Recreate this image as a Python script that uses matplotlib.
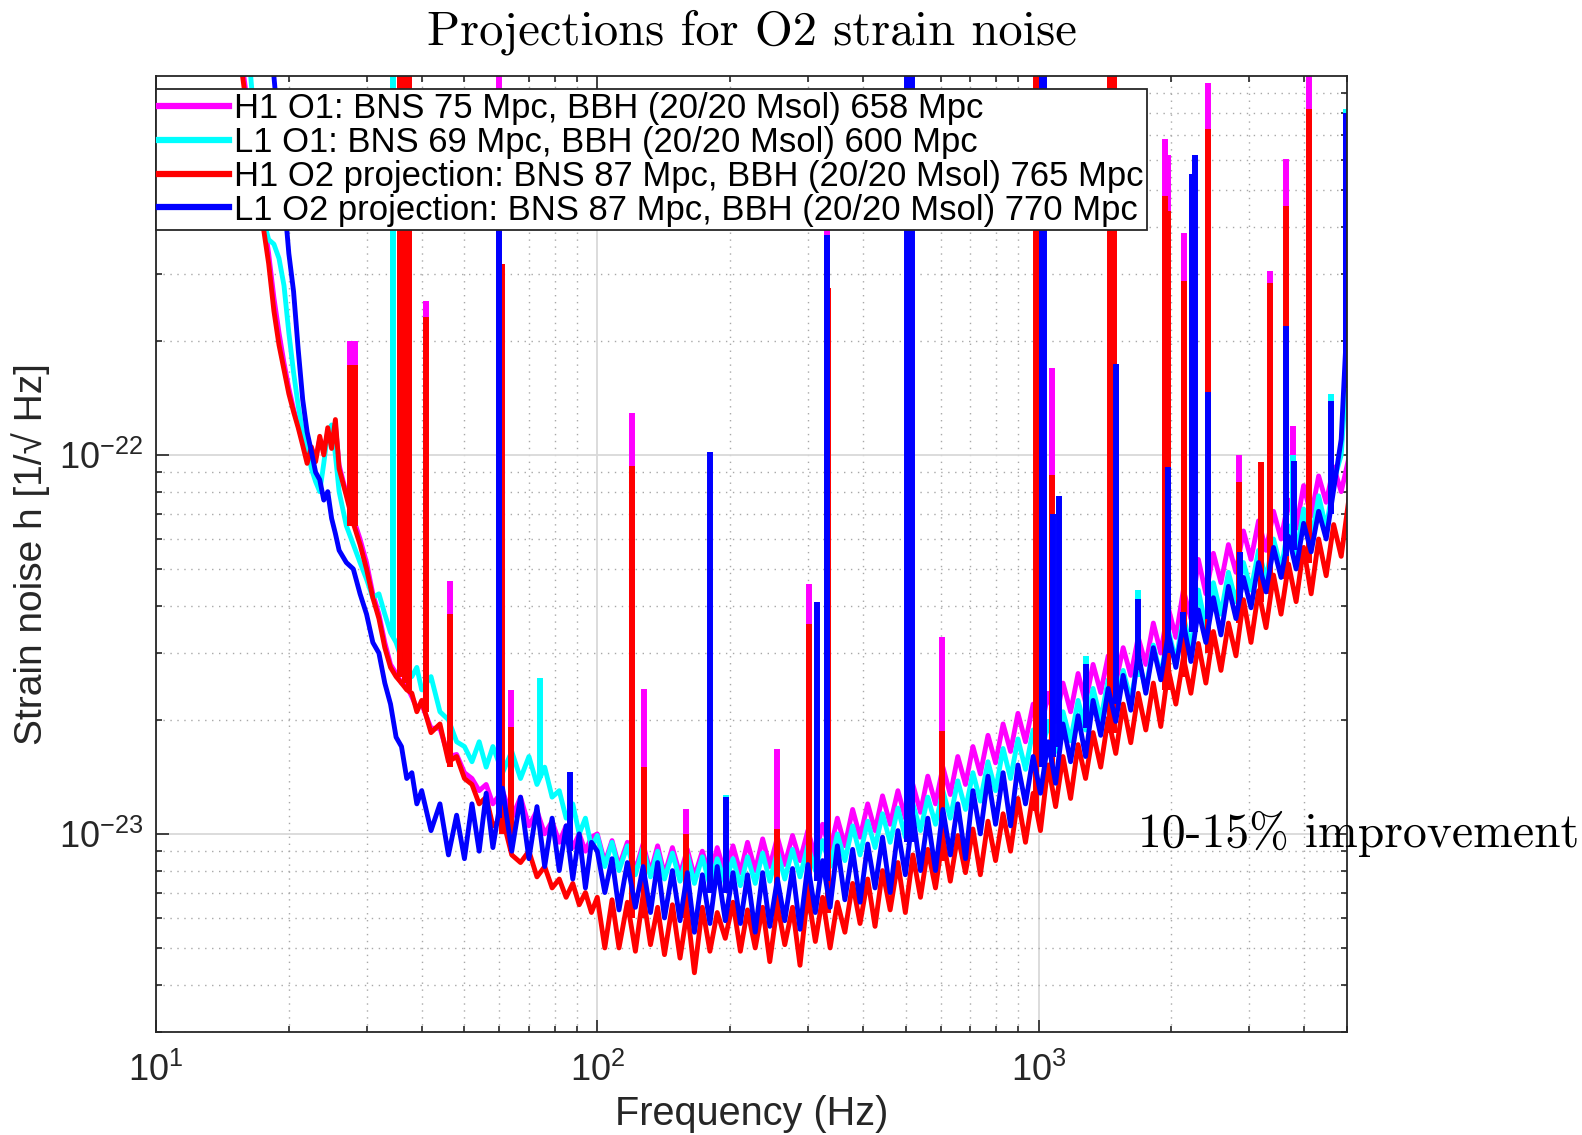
import numpy as np
import matplotlib
matplotlib.use("Agg")
import matplotlib.pyplot as plt
from matplotlib.ticker import LogLocator, NullFormatter

plt.rcParams['font.family'] = ['Liberation Sans', 'DejaVu Sans']
plt.rcParams['axes.unicode_minus'] = False

# === Frequency grid (Hz) shared by all four spectra ===
freq = [15, 16, 17, 17.5, 18, 18.5, 19, 19.5, 20, 20.5,
        21, 21.5, 22, 22.5, 23, 23.5, 24, 24.5, 25, 25.5,
        26, 27, 28, 29, 30, 31, 32, 33, 34, 35,
        36, 37, 38, 39, 40, 42, 44, 46, 48, 50,
        52, 54, 56, 58, 61, 64, 67, 70, 73, 76,
        79, 82, 85, 88, 91, 94, 97,
        100, 104, 108, 112, 117, 122, 127, 132, 137, 142,
        148, 154, 160, 166, 173, 180, 187, 195, 203, 211,
        219, 228, 237, 246, 256, 266, 277, 288, 300, 312,
        324, 337, 350, 364, 379, 394, 410, 426, 443, 461,
        480, 499, 519, 540, 561, 584, 607, 631, 656, 683,
        710, 738, 768, 799, 831, 864, 898, 934, 972, 1010,
        1051, 1093, 1136, 1182, 1229, 1278, 1329, 1383, 1438, 1496,
        1555, 1618, 1682, 1750, 1820, 1892, 1968, 2047, 2129, 2214,
        2302, 2394, 2490, 2590, 2693, 2801, 2913, 3030, 3151, 3277,
        3408, 3544, 3686, 3834, 3987, 4147, 4312, 4485, 4664, 4851,
        5045]

# === Strain noise, units of 1e-23 / sqrt(Hz) ===
h1_o1 = [160, 90, 56, 43, 34, 26, 21, 17.5, 15, 13.2,
         12, 10.8, 9.7, 10.4, 9.8, 11.0, 10.2, 11.5, 10.6, 12.0,
         9.4, 7.9, 6.8, 6.0, 5.2, 4.3, 3.8, 3.2, 2.8, 2.65,
         2.5, 2.45, 2.3, 2.15, 2.2, 1.9, 1.9, 1.6, 1.62, 1.45,
         1.4, 1.3, 1.35, 1.2, 1.3, 1.1, 1.25, 1.05, 1.15, 1.0,
         1.08, 0.95, 1.05, 0.92, 1.0, 0.9, 0.98,
         1.0, 0.84, 0.96, 0.82, 0.95, 0.8, 0.94, 0.79, 0.93, 0.78,
         0.92, 0.78, 0.91, 0.77, 0.9, 0.77, 0.92, 0.78, 0.93, 0.79,
         0.95, 0.8, 0.97, 0.82, 0.98, 0.83, 0.99, 0.85, 1.02, 0.87,
         1.06, 0.9, 1.1, 0.93, 1.16, 0.98, 1.2, 1.02, 1.26, 1.06,
         1.3, 1.1, 1.35, 1.14, 1.42, 1.2, 1.5, 1.27, 1.6, 1.35,
         1.7, 1.44, 1.82, 1.54, 1.95, 1.65, 2.08, 1.75, 2.2, 1.86,
         2.35, 1.98, 2.5, 2.1, 2.65, 2.22, 2.8, 2.36, 2.95, 2.5,
         3.1, 2.62, 3.3, 2.8, 3.6, 3.0, 3.95, 3.3, 4.4, 3.7,
         5.3, 4.3, 5.5, 4.6, 5.8, 4.9, 6.3, 5.3, 6.7, 5.6,
         7.1, 6.0, 7.6, 6.4, 8.3, 6.9, 8.8, 7.5, 9.3, 8.0,
         9.8]

l1_o1 = [400, 140, 60, 42, 37, 36, 33, 28, 21, 16.5,
         13.5, 11.5, 10.5, 9.2, 8.5, 8.0, 9.5, 11.5, 12, 10,
         8.0, 6.5, 5.8, 5.2, 4.7, 4.2, 4.3, 3.8, 3.4, 3.2,
         2.9, 2.8, 2.6, 2.75, 2.4, 2.6, 2.1, 2.0, 1.75, 1.7,
         1.55, 1.75, 1.5, 1.7, 1.45, 1.65, 1.4, 1.6, 1.35, 1.5,
         1.25, 1.3, 1.1, 1.2, 1.0, 1.1, 0.92,
         0.99, 0.82, 0.95, 0.8, 0.93, 0.78, 0.92, 0.77, 0.9, 0.76,
         0.89, 0.75, 0.88, 0.74, 0.87, 0.73, 0.86, 0.74, 0.86, 0.73,
         0.87, 0.74, 0.89, 0.75, 0.9, 0.76, 0.91, 0.77, 0.93, 0.8,
         0.96, 0.82, 1.0, 0.85, 1.05, 0.88, 1.08, 0.92, 1.13, 0.95,
         1.17, 0.98, 1.2, 1.02, 1.25, 1.06, 1.3, 1.1, 1.38, 1.16,
         1.45, 1.22, 1.55, 1.3, 1.68, 1.4, 1.78, 1.48, 1.88, 1.57,
         1.98, 1.65, 2.1, 1.76, 2.25, 1.88, 2.42, 2.0, 2.55, 2.12,
         2.7, 2.25, 2.9, 2.4, 3.15, 2.6, 3.45, 2.85, 3.75, 3.1,
         4.4, 3.5, 4.6, 3.8, 4.9, 4.1, 5.2, 4.4, 5.6, 4.7,
         6.0, 5.0, 6.5, 5.4, 7.2, 5.9, 7.8, 6.4, 8.5, 10,
         20]

h1_o2 = [150, 85, 52, 40, 32, 24, 19.5, 16.8, 14.5, 13.0,
         11.8, 10.6, 9.5, 10.5, 9.6, 11.2, 10.0, 11.8, 10.4, 12.4,
         9.2, 7.8, 6.6, 5.8, 5.0, 4.2, 3.7, 3.1, 2.75, 2.6,
         2.5, 2.4, 2.35, 2.1, 2.25, 1.85, 1.95, 1.55, 1.6, 1.4,
         1.35, 1.2, 1.25, 1.05, 1.1, 0.88, 0.84, 0.9, 0.77, 0.82,
         0.72, 0.76, 0.68, 0.74, 0.65, 0.7, 0.62,
         0.68, 0.5, 0.67, 0.5, 0.66, 0.49, 0.69, 0.51, 0.64, 0.48,
         0.65, 0.47, 0.63, 0.43, 0.64, 0.49, 0.62, 0.53, 0.66, 0.49,
         0.63, 0.5, 0.64, 0.46, 0.65, 0.51, 0.64, 0.45, 0.7, 0.52,
         0.68, 0.5, 0.66, 0.55, 0.74, 0.58, 0.76, 0.57, 0.8, 0.63,
         0.84, 0.62, 0.88, 0.68, 0.91, 0.72, 0.98, 0.75, 0.99, 0.79,
         1.03, 0.78, 1.08, 0.85, 1.13, 0.9, 1.24, 0.95, 1.28, 1.02,
         1.52, 1.18, 1.6, 1.24, 1.72, 1.4, 1.85, 1.5, 2.02, 1.63,
         2.2, 1.74, 2.35, 1.88, 2.5, 1.92, 2.72, 2.2, 2.92, 2.35,
         3.18, 2.5, 3.42, 2.7, 3.6, 2.95, 4.15, 3.2, 4.38, 3.5,
         4.82, 3.8, 5.15, 4.1, 5.7, 4.3, 6.0, 4.8, 6.55, 5.4,
         7.6]

l1_o2 = [400, 300, 220, 180, 140, 100, 70, 48, 34, 27,
         19, 14, 11.5, 10.2, 9.0, 8.6, 7.6, 8.0, 6.8, 6.2,
         5.6, 5.2, 5.0, 4.3, 3.8, 3.2, 3.0, 2.5, 2.2, 1.8,
         1.7, 1.4, 1.45, 1.2, 1.3, 1.02, 1.2, 0.88, 1.12, 0.86,
         1.2, 0.9, 1.28, 0.92, 1.32, 0.9, 1.25, 0.86, 1.18, 0.82,
         1.1, 0.8, 1.05, 0.76, 1.0, 0.72, 0.95,
         0.9, 0.7, 0.86, 0.63, 0.84, 0.64, 0.82, 0.62, 0.84, 0.6,
         0.8, 0.59, 0.79, 0.55, 0.78, 0.58, 0.82, 0.59, 0.79, 0.58,
         0.78, 0.55, 0.79, 0.57, 0.76, 0.59, 0.81, 0.56, 0.83, 0.62,
         0.85, 0.64, 0.93, 0.67, 0.91, 0.66, 0.94, 0.72, 0.98, 0.7,
         1.02, 0.78, 1.12, 0.8, 1.1, 0.8, 1.16, 0.88, 1.2, 0.86,
         1.3, 1.0, 1.42, 1.06, 1.45, 1.05, 1.52, 1.2, 1.6, 1.28,
         1.75, 1.36, 1.95, 1.55, 2.05, 1.6, 2.25, 1.82, 2.42, 1.98,
         2.62, 2.12, 3.0, 2.35, 3.1, 2.55, 3.38, 2.75, 3.6, 2.85,
         3.9, 3.2, 4.2, 3.35, 4.5, 3.7, 4.75, 3.95, 5.2, 4.35,
         5.7, 4.75, 6.1, 5.0, 6.6, 5.55, 7.1, 6.0, 8.1, 11,
         28]

# === Spectral lines: frequency, line top, line foot (units of 1e-23) ===
h1_o1_line_f = [27.5, 28.3, 35.7, 36.6, 37.5, 41.0, 46.3, 59.8, 63.8, 120,
                127.5, 159, 256, 302, 331, 603, 995, 1075, 1455, 1485,
                1935, 1965, 2140, 2420, 2850, 3350, 3640, 3780, 4100]
h1_o1_line_top = [20, 20, 200, 200, 200, 25.5, 4.65, 200, 2.39, 12.9,
                  2.41, 1.16, 1.67, 4.57, 42, 3.31, 200, 17, 200, 200,
                  68, 62, 38.5, 96, 10, 30.6, 60.5, 11.9, 200]
h1_o1_line_foot = [7, 7, 2.6, 2.5, 2.4, 2.2, 1.6, 1.2, 1.1, 0.85,
                   0.85, 0.85, 0.9, 0.95, 1.0, 1.35, 2.0, 2.2, 2.8, 2.8,
                   3.4, 3.4, 3.9, 4.8, 5.5, 6.6, 7.2, 7.4, 8.3]

l1_o1_line_f = [34.4, 74, 196, 1280, 1680, 3780, 4600, 4985]
l1_o1_line_top = [200, 2.58, 1.27, 2.95, 4.4, 10.0, 14.5, 82]
l1_o1_line_foot = [3.3, 1.4, 0.8, 2.0, 2.6, 6.0, 7.5, 15]

h1_o2_line_f = [27.5, 28.3, 35.7, 36.6, 37.5, 41.0, 46.3, 60.8, 63.8, 120,
                127.5, 159, 256, 302, 333, 603, 988, 1075, 1455, 1485,
                1935, 1965, 2140, 2420, 2850, 3200, 3350, 3640, 4100]
h1_o2_line_top = [17.3, 17.3, 200, 200, 200, 23.1, 3.8, 32, 1.92, 9.35,
                  1.5, 1.0, 1.03, 3.57, 27.6, 1.87, 200, 8.86, 200, 200,
                  48.3, 44, 28.8, 72.4, 8.5, 9.6, 28.5, 45.5, 82]
h1_o2_line_foot = [6.5, 6.5, 2.6, 2.5, 2.4, 2.1, 1.5, 1.0, 0.9, 0.6,
                   0.6, 0.6, 0.6, 0.62, 0.62, 0.85, 1.15, 1.35, 1.85, 1.85,
                   2.4, 2.4, 2.6, 3.0, 3.6, 4.1, 4.3, 4.7, 5.2]

l1_o2_line_f = [59.8, 86.6, 180, 196, 315, 331, 503, 516, 1018, 1028,
                1078, 1110, 1280, 1500, 1680, 1965, 2130, 2230, 2260, 2420,
                2860, 3640, 3790, 4600, 4985]
l1_o2_line_top = [60, 1.46, 10.2, 1.25, 4.1, 38, 200, 200, 200, 200,
                  7.0, 7.8, 2.81, 17.4, 4.17, 9.3, 3.85, 55, 62, 14.7,
                  5.55, 21.9, 9.65, 13.9, 80]
l1_o2_line_foot = [1.1, 0.9, 0.7, 0.7, 0.75, 0.75, 0.95, 0.95, 1.5, 1.5,
                   1.6, 1.7, 1.9, 2.2, 2.7, 3.0, 3.3, 3.4, 3.4, 3.7,
                   4.2, 5.4, 5.6, 7.0, 15]

labels = ['H1 O1: BNS 75 Mpc, BBH (20/20 Msol) 658 Mpc',
          'L1 O1: BNS 69 Mpc, BBH (20/20 Msol) 600 Mpc',
          'H1 O2 projection: BNS 87 Mpc, BBH (20/20 Msol) 765 Mpc',
          'L1 O2 projection: BNS 87 Mpc, BBH (20/20 Msol) 770 Mpc']
colors = ['#ff00ff', '#00ffff', '#ff0000', '#0000ff']

series = [(h1_o1, h1_o1_line_f, h1_o1_line_top, h1_o1_line_foot),
          (l1_o1, l1_o1_line_f, l1_o1_line_top, l1_o1_line_foot),
          (h1_o2, h1_o2_line_f, h1_o2_line_top, h1_o2_line_foot),
          (l1_o2, l1_o2_line_f, l1_o2_line_top, l1_o2_line_foot)]

# === Plot ===
fig = plt.figure(figsize=(15.82, 11.35), dpi=100)
ax = fig.add_axes([156 / 1582, 1 - 1032 / 1135, 1191 / 1582, 956 / 1135])

for i, (asd, lf, lt, lb) in enumerate(series):
    z = 2 + 0.1 * i
    ax.plot(freq, np.array(asd) * 1e-23, color=colors[i], lw=3.5,
            label=labels[i], zorder=z)
    ax.vlines(lf, np.array(lb) * 1e-23, np.array(lt) * 1e-23,
              color=colors[i], lw=4.3, capstyle='butt', zorder=z)

ax.set_xscale('log')
ax.set_yscale('log')
ax.set_xlim(10, 5000)
ax.set_ylim(3e-24, 1e-21)
ax.set_xticks([10, 100, 1000])
ax.set_yticks([1e-23, 1e-22])
ax.xaxis.set_minor_locator(LogLocator(base=10, subs=np.arange(2, 10), numticks=20))
ax.yaxis.set_minor_locator(LogLocator(base=10, subs=np.arange(2, 10), numticks=20))
ax.xaxis.set_minor_formatter(NullFormatter())
ax.yaxis.set_minor_formatter(NullFormatter())

ax.set_axisbelow(True)
ax.grid(which='major', color='#d9d9d9', lw=1.3, ls='-')
ax.grid(which='minor', color='#a8a8a8', lw=1.0, ls=(0, (1, 4)))

ax.tick_params(which='both', direction='in', top=True, right=True,
               width=1.2, color='#262626', labelcolor='#262626')
ax.tick_params(which='major', length=9, labelsize=26)
ax.tick_params(axis='x', which='major', pad=15)
ax.tick_params(axis='y', which='major', pad=9)
ax.tick_params(which='minor', length=4.5)
for s in ax.spines.values():
    s.set_linewidth(1.3)
    s.set_color('#262626')

ax.set_xlabel('Frequency (Hz)', fontsize=28.5, color='#262626')
ax.set_ylabel('Strain noise h [1/\u221a Hz]', fontsize=28, color='#262626')
ax.xaxis.set_label_coords(0.5, -0.066)
ax.yaxis.set_label_coords(-0.089, 0.5)

fig.text(0.475, 0.972, 'Projections for O2 strain noise', ha='center',
         va='center', family='cmr10', fontsize=35)
ax.text(1680, 1e-23, '10-15% improvement', ha='left', va='center',
        family='cmr10', fontsize=34.4, clip_on=False, zorder=6)

leg = ax.legend(loc='upper left', bbox_to_anchor=(0.0, 1 - 13 / 956),
                borderaxespad=0, fontsize=24.9, fancybox=False,
                edgecolor='#262626', framealpha=1, borderpad=0.1,
                labelspacing=0.02, handlelength=2.0, handletextpad=0.15)
leg.get_frame().set_linewidth(1.3)
leg.set_zorder(5)
for line in leg.get_lines():
    line.set_linewidth(4.5)

plt.savefig('out.png', dpi=100)
plt.close()
